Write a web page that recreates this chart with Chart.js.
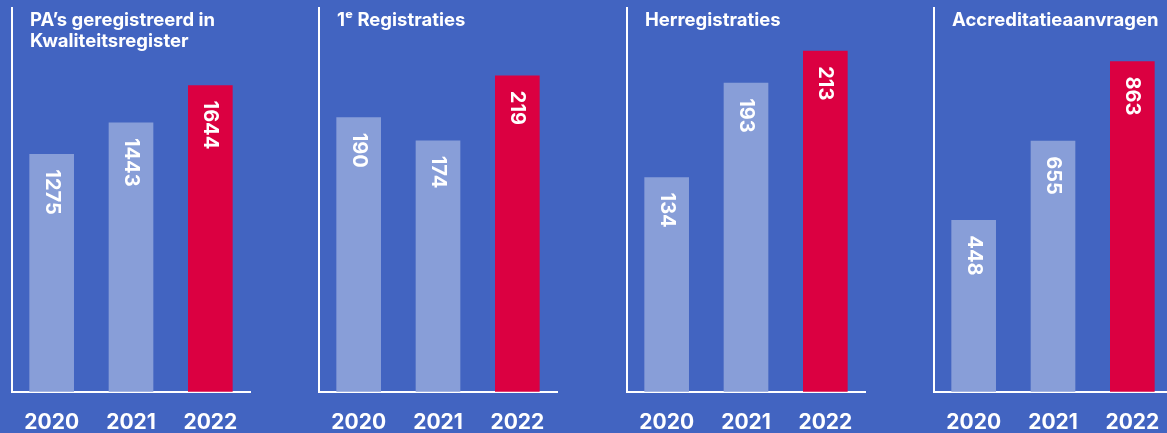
<!DOCTYPE html>
<html>
<head>
<meta charset="utf-8">
<script src="https://cdn.jsdelivr.net/npm/chart.js@4/dist/chart.umd.min.js"></script>
<style>
    html, body { margin: 0; padding: 0; background: #4264c1; overflow: hidden; }
    #wrap { position: relative; width: 1167px; height: 433px; overflow: hidden; }
    .panel { position: absolute; top: 0; width: 307px; height: 453px; }
    canvas { display: block; }
</style>
</head>
<body>
<div id="wrap"></div>
<script>
const years = ["2020", "2021", "2022"]
const titles = [
    ["PA’s geregistreerd in", "Kwaliteitsregister"],
    ["1ᵉ Registraties"],
    ["Herregistraties"],
    ["Accreditatieaanvragen"]
]
const registered = [1275, 1443, 1644]
const firstRegistrations = [190, 174, 219]
const reRegistrations = [134, 193, 213]
const accreditations = [448, 655, 863]
const axisMax = [2060, 266, 240, 1003]

const series = [registered, firstRegistrations, reRegistrations, accreditations]

const LIGHT = "#889ed8"
const RED = "#db0041"
const FONT = "Inter, 'DejaVu Sans', sans-serif"

// value text inside the bar, rotated, near the top
const valueLabels = {
    id: "valueLabels",
    afterDatasetsDraw(chart) {
        const { ctx } = chart
        const meta = chart.getDatasetMeta(0)
        ctx.save()
        ctx.fillStyle = "#ffffff"
        ctx.font = `bold 20px ${FONT}`
        ctx.textAlign = "left"
        ctx.textBaseline = "middle"
        meta.data.forEach((bar, i) => {
            ctx.save()
            ctx.translate(bar.x, bar.y + 15)
            ctx.rotate(Math.PI / 2)
            ctx.fillText(String(chart.data.datasets[0].data[i]), 0, 0)
            ctx.restore()
        })
        ctx.restore()
    }
}

const panelTitle = {
    id: "panelTitle",
    afterDraw(chart, args, opts) {
        const { ctx, chartArea } = chart
        ctx.save()
        ctx.fillStyle = "#ffffff"
        ctx.font = `bold 18.5px ${FONT}`
        ctx.textAlign = "left"
        ctx.textBaseline = "alphabetic"
        opts.lines.forEach((line, i) => {
            ctx.fillText(line, chartArea.left + 18, 26 + i * 21)
        })
        ctx.restore()
    }
}

const wrap = document.getElementById("wrap")

series.forEach((values, p) => {
    const div = document.createElement("div")
    div.className = "panel"
    div.style.left = Math.round(p * 307.3) + "px"
    const canvas = document.createElement("canvas")
    canvas.width = 307
    canvas.height = 453
    div.appendChild(canvas)
    wrap.appendChild(div)

    new Chart(canvas, {
        type: "bar",
        data: {
            labels: years,
            datasets: [{
                data: values,
                backgroundColor: years.map((_, i) => i === years.length - 1 ? RED : LIGHT),
                borderWidth: 0,
                barThickness: 44
            }]
        },
        options: {
            responsive: false,
            animation: false,
            layout: { padding: { left: 12, right: 57, top: 8, bottom: 0 } },
            scales: {
                x: {
                    grid: { display: false, drawTicks: false },
                    border: { display: true, color: "#ffffff", width: 2 },
                    ticks: {
                        color: "#ffffff",
                        font: { family: FONT, size: 21, weight: "bold" },
                        padding: 18
                    }
                },
                y: {
                    min: 0,
                    max: axisMax[p],
                    grid: { display: false, drawTicks: false },
                    border: { display: true, color: "#ffffff", width: 2 },
                    ticks: { display: false }
                }
            },
            plugins: {
                legend: { display: false },
                tooltip: { enabled: false },
                panelTitle: { lines: titles[p] }
            }
        },
        plugins: [valueLabels, panelTitle]
    })
})
</script>
</body>
</html>
